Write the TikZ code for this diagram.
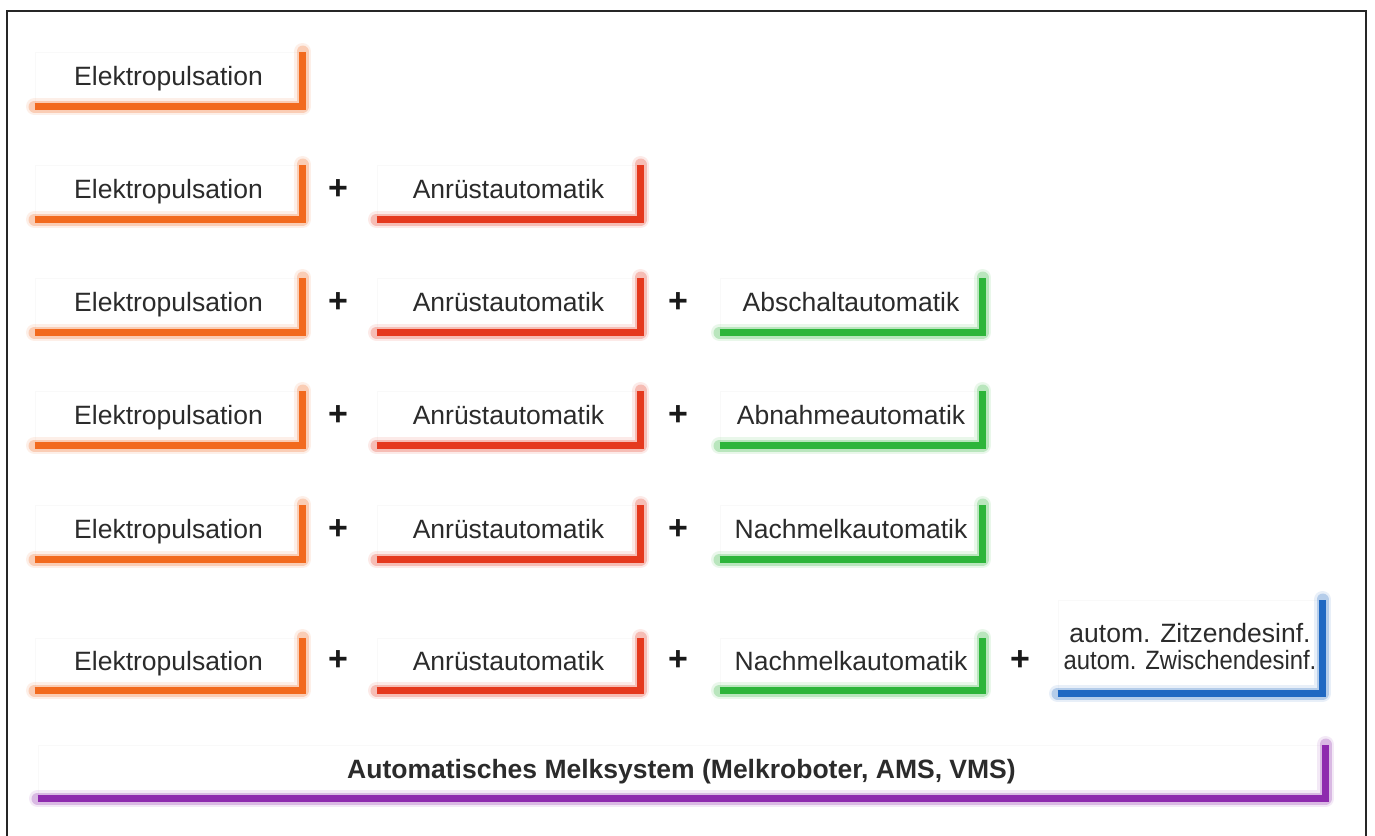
\documentclass[tikz,border=0pt]{standalone}
\usepackage{fontspec}
\setmainfont{Liberation Sans}
\usetikzlibrary{calc}
\definecolor{cOr}{HTML}{F26A1E}
\definecolor{cRd}{HTML}{E5391E}
\definecolor{cGr}{HTML}{2DB53A}
\definecolor{cBl}{HTML}{1F68C2}
\definecolor{cPu}{HTML}{8E2AAE}
\definecolor{txt}{HTML}{2B2B2B}
\tikzset{
  boxnode/.style={rectangle, fill=white, draw=black!2.5, line width=1pt, inner sep=0pt,
    text=txt, font=\fontsize{26.5}{27}\selectfont, align=center,
    text height=19pt, text depth=6pt},
  plusnode/.style={font=\fontsize{34}{34}\selectfont\bfseries, text=black!90, inner sep=0pt},
  frameline/.style={draw=black!85, line width=2pt},
}
\newcommand\Lacc[2]{%
  \draw[#2, opacity=0.10, line width=17pt, line cap=round, line join=round]
    (#1.south west) -- (#1.south east) -- (#1.north east);
  \draw[#2, opacity=0.25, line width=12pt, line cap=round, line join=round]
    (#1.south west) -- (#1.south east) -- (#1.north east);
  \draw[#2, line width=7pt, line cap=butt, line join=miter]
    (#1.south west) -- (#1.south east) -- (#1.north east);
}
\begin{document}
\begin{tikzpicture}[x=1pt,y=-1pt]
\useasboundingbox (0,0) rectangle (1375,835);
\fill[white] (0,0) rectangle (1375,835);
\draw[frameline] (7,840) -- (7,11) -- (1366,11) -- (1366,840);

% row 1
\node[boxnode, minimum width=267pt, minimum height=54pt] (e1) at (168.5,79) {Elektropulsation};
\Lacc{e1}{cOr}

% rows 2-5
\foreach \r/\y/\third in {2/192/{}, 3/305/Abschaltautomatik, 4/418/Abnahmeautomatik, 5/532/Nachmelkautomatik}{
  \node[boxnode, minimum width=267pt, minimum height=54pt] (e\r) at (168.5,\y) {Elektropulsation};
  \Lacc{e\r}{cOr}
  \node[plusnode] (pa\r) at (338,\y-2) {+};
  \node[boxnode, minimum width=263pt, minimum height=54pt] (a\r) at (508.5,\y) {Anrüstautomatik};
  \Lacc{a\r}{cRd}
  \ifx\third\empty\else
    \node[plusnode] (pb\r) at (678,\y-2) {+};
    \node[boxnode, minimum width=262pt, minimum height=54pt] (n\r) at (851,\y) {\third};
    \Lacc{n\r}{cGr}
  \fi
}

% row 6
\node[boxnode, minimum width=267pt, minimum height=52pt] (e6) at (168.5,664) {Elektropulsation};
\Lacc{e6}{cOr}
\node[plusnode] (pa6) at (338,661) {+};
\node[boxnode, minimum width=263pt, minimum height=52pt] (a6) at (508.5,664) {Anrüstautomatik};
\Lacc{a6}{cRd}
\node[plusnode] (pb6) at (678,661) {+};
\node[boxnode, minimum width=262pt, minimum height=52pt] (n6) at (851,664) {Nachmelkautomatik};
\Lacc{n6}{cGr}
\node[plusnode] (pc6) at (1020,661) {+};
\node[boxnode, minimum width=264pt, minimum height=93pt, text height=, text depth=] (d6) at (1190,646.5)
  {autom. Zitzendesinf.\\\scalebox{0.9}[1]{autom. Zwischendesinf.}};
\Lacc{d6}{cBl}

% bottom bar
\node[boxnode, minimum width=1287pt, minimum height=53pt] (ams) at (681.5,771.5)
  {\bfseries Automatisches Melksystem (Melkroboter, AMS, VMS)};
\Lacc{ams}{cPu}
\end{tikzpicture}
\end{document}
